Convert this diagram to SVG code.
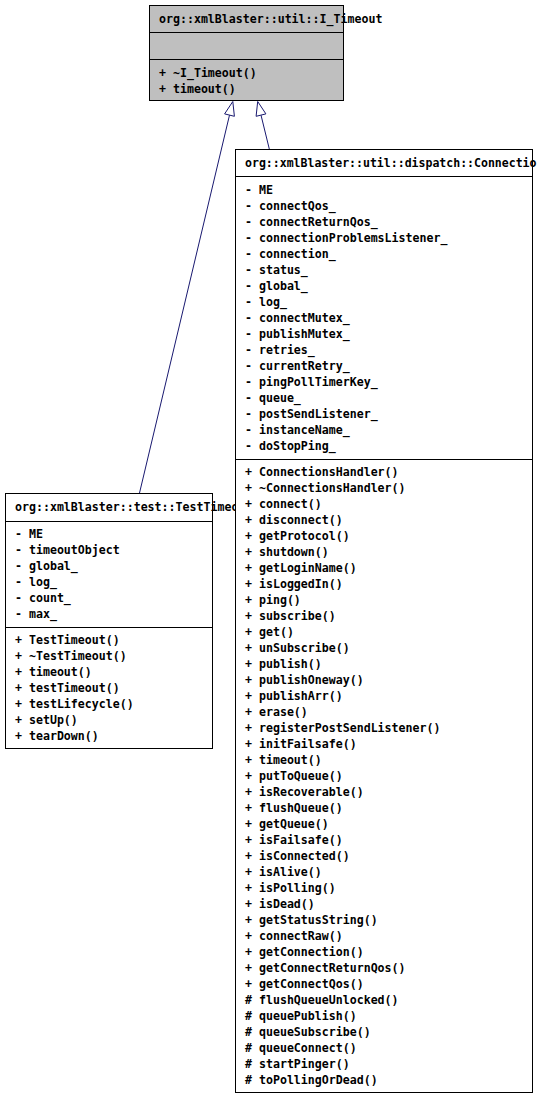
<svg xmlns="http://www.w3.org/2000/svg" width="538" height="1098" viewBox="0 0 538 1098">
<style>
.box{fill:#ffffff;stroke:#000000;stroke-width:1}
.gray{fill:#bfbfbf}
.sep{stroke:#000000;stroke-width:1}
.t{font-family:"DejaVu Sans Mono","Liberation Mono",monospace;font-size:11.6px;font-weight:bold;fill:#000000}
.edge{fill:none;stroke:#191970;stroke-width:1}
.head{fill:#ffffff;stroke:#191970;stroke-width:1}
</style>
<rect x="0" y="0" width="538" height="1098" fill="#ffffff"/>
<g id="connectors">
<path class="edge" d="M139.5,493 L229.5,115.1"/>
<polygon class="head" points="232.8,101.5 234.4,116.3 224.6,113.9"/>
<path class="edge" d="M269.3,149 L261,115.1"/>
<polygon class="head" points="257.7,101.5 265.9,113.9 256.1,116.3"/>
</g>
<g id="I_Timeout">
<rect class="box gray" x="149.5" y="5.5" width="194" height="95"/>
<line class="sep" x1="149.5" y1="32.5" x2="343.5" y2="32.5"/>
<line class="sep" x1="149.5" y1="59.5" x2="343.5" y2="59.5"/>
<text class="t" x="159" y="23">org::xmlBlaster::util::I_Timeout</text>
<text class="t" x="159" y="77">+ ~I_Timeout()</text>
<text class="t" x="159" y="93">+ timeout()</text>
</g>
<g id="TestTimeout">
<rect class="box" x="5.5" y="493.5" width="207" height="255"/>
<line class="sep" x1="5.5" y1="521.5" x2="212.5" y2="521.5"/>
<line class="sep" x1="5.5" y1="627.5" x2="212.5" y2="627.5"/>
<text class="t" x="15" y="511">org::xmlBlaster::test::TestTimeout</text>
<text class="t" x="15" y="538">- ME</text>
<text class="t" x="15" y="554">- timeoutObject</text>
<text class="t" x="15" y="570">- global_</text>
<text class="t" x="15" y="586">- log_</text>
<text class="t" x="15" y="602">- count_</text>
<text class="t" x="15" y="618">- max_</text>
<text class="t" x="15" y="644">+ TestTimeout()</text>
<text class="t" x="15" y="660">+ ~TestTimeout()</text>
<text class="t" x="15" y="676">+ timeout()</text>
<text class="t" x="15" y="692">+ testTimeout()</text>
<text class="t" x="15" y="708">+ testLifecycle()</text>
<text class="t" x="15" y="724">+ setUp()</text>
<text class="t" x="15" y="740">+ tearDown()</text>
</g>
<g id="ConnectionsHandler">
<rect class="box" x="235.5" y="149.5" width="297" height="943"/>
<line class="sep" x1="235.5" y1="176.5" x2="532.5" y2="176.5"/>
<line class="sep" x1="235.5" y1="459.5" x2="532.5" y2="459.5"/>
<text class="t" x="245" y="167" textLength="291.5" lengthAdjust="spacingAndGlyphs">org::xmlBlaster::util::dispatch::Connectio</text>
<text class="t" x="245" y="194">- ME</text>
<text class="t" x="245" y="210">- connectQos_</text>
<text class="t" x="245" y="226">- connectReturnQos_</text>
<text class="t" x="245" y="242">- connectionProblemsListener_</text>
<text class="t" x="245" y="258">- connection_</text>
<text class="t" x="245" y="274">- status_</text>
<text class="t" x="245" y="290">- global_</text>
<text class="t" x="245" y="306">- log_</text>
<text class="t" x="245" y="322">- connectMutex_</text>
<text class="t" x="245" y="338">- publishMutex_</text>
<text class="t" x="245" y="354">- retries_</text>
<text class="t" x="245" y="370">- currentRetry_</text>
<text class="t" x="245" y="386">- pingPollTimerKey_</text>
<text class="t" x="245" y="402">- queue_</text>
<text class="t" x="245" y="418">- postSendListener_</text>
<text class="t" x="245" y="434">- instanceName_</text>
<text class="t" x="245" y="450">- doStopPing_</text>
<text class="t" x="245" y="476">+ ConnectionsHandler()</text>
<text class="t" x="245" y="492">+ ~ConnectionsHandler()</text>
<text class="t" x="245" y="508">+ connect()</text>
<text class="t" x="245" y="524">+ disconnect()</text>
<text class="t" x="245" y="540">+ getProtocol()</text>
<text class="t" x="245" y="556">+ shutdown()</text>
<text class="t" x="245" y="572">+ getLoginName()</text>
<text class="t" x="245" y="588">+ isLoggedIn()</text>
<text class="t" x="245" y="604">+ ping()</text>
<text class="t" x="245" y="620">+ subscribe()</text>
<text class="t" x="245" y="636">+ get()</text>
<text class="t" x="245" y="652">+ unSubscribe()</text>
<text class="t" x="245" y="668">+ publish()</text>
<text class="t" x="245" y="684">+ publishOneway()</text>
<text class="t" x="245" y="700">+ publishArr()</text>
<text class="t" x="245" y="716">+ erase()</text>
<text class="t" x="245" y="732">+ registerPostSendListener()</text>
<text class="t" x="245" y="748">+ initFailsafe()</text>
<text class="t" x="245" y="764">+ timeout()</text>
<text class="t" x="245" y="780">+ putToQueue()</text>
<text class="t" x="245" y="796">+ isRecoverable()</text>
<text class="t" x="245" y="812">+ flushQueue()</text>
<text class="t" x="245" y="828">+ getQueue()</text>
<text class="t" x="245" y="844">+ isFailsafe()</text>
<text class="t" x="245" y="860">+ isConnected()</text>
<text class="t" x="245" y="876">+ isAlive()</text>
<text class="t" x="245" y="892">+ isPolling()</text>
<text class="t" x="245" y="908">+ isDead()</text>
<text class="t" x="245" y="924">+ getStatusString()</text>
<text class="t" x="245" y="940">+ connectRaw()</text>
<text class="t" x="245" y="956">+ getConnection()</text>
<text class="t" x="245" y="972">+ getConnectReturnQos()</text>
<text class="t" x="245" y="988">+ getConnectQos()</text>
<text class="t" x="245" y="1004"># flushQueueUnlocked()</text>
<text class="t" x="245" y="1020"># queuePublish()</text>
<text class="t" x="245" y="1036"># queueSubscribe()</text>
<text class="t" x="245" y="1052"># queueConnect()</text>
<text class="t" x="245" y="1068"># startPinger()</text>
<text class="t" x="245" y="1084"># toPollingOrDead()</text>
</g>
</svg>
